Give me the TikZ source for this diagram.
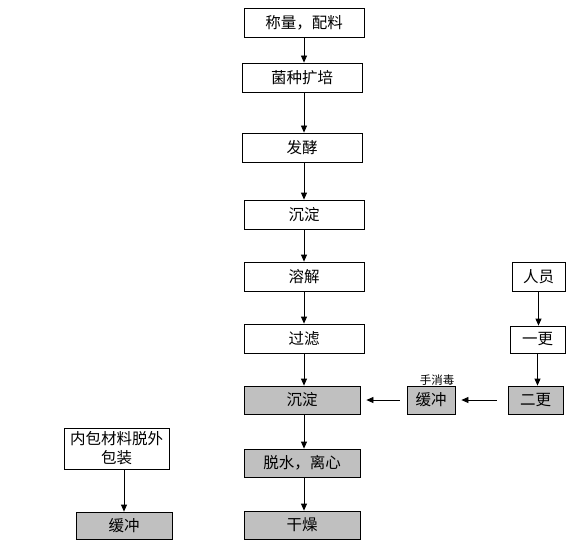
\documentclass[tikz,border=0pt]{standalone}
\usepackage{fontspec}
\setmainfont{Noto Sans CJK SC}
\usetikzlibrary{arrows.meta}
\definecolor{boxgray}{RGB}{192,192,192}
\tikzset{
  whitebox/.style={draw, fill=white, minimum width=120pt, minimum height=29pt,
    inner sep=1pt, font=\fontsize{15.5}{18}\selectfont},
  graybox/.style={whitebox, fill=boxgray, minimum width=116pt, minimum height=28pt},
  flow/.style={->, line width=0.8pt}
}
\begin{document}
\begin{tikzpicture}[x=1pt,y=-1pt,>={Triangle[width=6pt,length=7pt]},line width=0.8pt]
        \useasboundingbox (0,0) rectangle (572,540);
        % main column
        \node[whitebox] (weigh) at (304,22.5) {称量，配料};
        \node[whitebox] (expand) at (302,77.5) {菌种扩培};
        \node[whitebox] (ferment) at (302,147.5) {发酵};
        \node[whitebox] (settleA) at (304,214.5) {沉淀};
        \node[whitebox] (dissolve) at (304,276.5) {溶解};
        \node[whitebox] (filter) at (304,338.5) {过滤};
        \node[graybox] (settleB) at (302,400) {沉淀};
        \node[graybox] (dewater) at (302,463) {脱水，离心};
        \node[graybox] (dry) at (302,525) {干燥};
        % staff path
        \node[whitebox, minimum width=53pt] (staff) at (538.5,276.5) {人员};
        \node[whitebox, minimum width=55pt, minimum height=27pt] (changeA) at (537.5,339.5) {一更};
        \node[graybox, minimum width=55pt] (changeB) at (535.5,400) {二更};
        \node[graybox, minimum width=48pt] (bufferA) at (431,400) {缓冲};
        \node[font=\fontsize{11.5}{12}\selectfont, inner sep=0pt] (handwash) at (437,380) {手消毒};
        % packing material path
        \node[whitebox, minimum width=105pt, minimum height=41pt, align=center,
          font=\fontsize{15.5}{19}\selectfont] (unpack) at (116.5,448.5) {内包材料脱外\\包装};
        \node[graybox, minimum width=96pt, minimum height=27pt] (bufferB) at (124,525.5) {缓冲};
        % arrows
        \draw[flow] (weigh.south) -- (weigh.south |- expand.north);
        \draw[flow] (weigh.south |- expand.south) -- (weigh.south |- ferment.north);
        \draw[flow] (settleA.north |- ferment.south) -- (settleA.north);
        \draw[flow] (settleA.south) -- (dissolve.north);
        \draw[flow] (dissolve.south) -- (filter.north);
        \draw[flow] (filter.south) -- (filter.south |- settleB.north);
        \draw[flow] (filter.south |- settleB.south) -- (filter.south |- dewater.north);
        \draw[flow] (filter.south |- dewater.south) -- (filter.south |- dry.north);
        \draw[flow] (staff.south) -- (staff.south |- changeA.north);
        \draw[flow] (changeA.south) -- (changeA.south |- changeB.north);
        \draw[flow, shorten <=11pt, shorten >=6pt] (changeB.west) -- (bufferA.east);
        \draw[flow, shorten <=7pt, shorten >=6pt] (bufferA.west) -- (settleB.east);
        \draw[flow] (bufferB.north |- unpack.south) -- (bufferB.north);
\end{tikzpicture}
\end{document}
